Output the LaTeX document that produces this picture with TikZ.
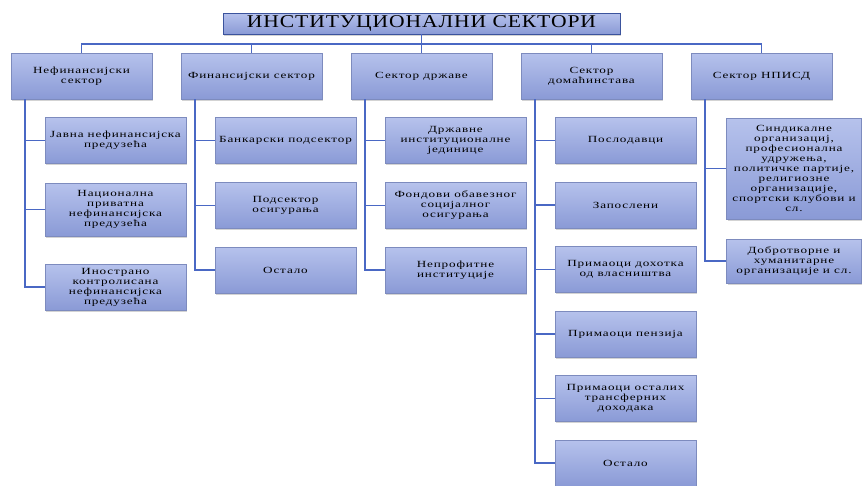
\documentclass[tikz,border=0pt]{standalone}
\usepackage{fontspec}
\setmainfont{Liberation Serif}[FakeStretch=1.4, LetterSpace=9]
\newfontfamily\titlefont{Liberation Serif}[FakeStretch=1.2, LetterSpace=5]
\usetikzlibrary{positioning,shadows}
\definecolor{boxtop}{HTML}{B6C2EC}
\definecolor{boxbot}{HTML}{8A9AD6}
\definecolor{boxline}{HTML}{7D8BBE}
\definecolor{linkblue}{HTML}{4A68C4}
\begin{document}
\begin{tikzpicture}[node distance=170pt, auto]
    \tikzstyle{base} = [rectangle, draw=boxline, top color=boxtop, bottom color=boxbot, align=center, inner sep=1pt,
        drop shadow={shadow xshift=1pt, shadow yshift=-1.5pt, opacity=0.35}, font=\fontsize{9.4}{10}\selectfont]
    \tikzstyle{sector} = [base, minimum width=141pt, minimum height=46pt]
    \tikzstyle{sub} = [base, minimum width=141pt, minimum height=46pt]
    \tikzstyle{head} = [base, minimum width=397pt, minimum height=21pt, draw=linkblue!80!black, font=\titlefont\fontsize{18}{19}\selectfont]
    \tikzstyle{link} = [draw=linkblue, line width=1.5pt]

    \useasboundingbox (0,0) rectangle (862pt,-485pt);

    % Title
    \node [head] (title) at (421.5pt,-23.5pt) {ИНСТИТУЦИОНАЛНИ СЕКТОРИ};

    % Sectors
    \node [sector, below of=title, node distance=52.5pt] (n3) {Сектор државе};
    \node [sector, left of=n3] (n2) {Финансијски сектор};
    \node [sector, left of=n2] (n1) {Нефинансијски\\сектор};
    \node [sector, right of=n3] (n4) {Сектор\\домаћинстава};
    \node [sector, right of=n4] (n5) {Сектор НПИСД};

    % Non-financial
    \node [sub, below of=n1, node distance=64.5pt, xshift=34pt] (n1a) {Јавна нефинансијска\\предузећа};
    \node [sub, below of=n1a, node distance=69pt, minimum height=53pt] (n1b) {Национална\\приватна\\нефинансијска\\предузећа};
    \node [sub, below of=n1b, node distance=77.5pt] (n1c) {Инострано\\контролисана\\нефинансијска\\предузећа};

    % Financial
    \node [sub, below of=n2, node distance=64.5pt, xshift=34pt] (n2a) {Банкарски подсектор};
    \node [sub, below of=n2a, node distance=65pt] (n2b) {Подсектор\\осигурања};
    \node [sub, below of=n2b, node distance=64.5pt] (n2c) {Остало};

    % Government
    \node [sub, below of=n3, node distance=64.5pt, xshift=34pt] (n3a) {Државне\\институционалне\\јединице};
    \node [sub, below of=n3a, node distance=65pt] (n3b) {Фондови обавезног\\социјалног\\осигурања};
    \node [sub, below of=n3b, node distance=64.5pt] (n3c) {Непрофитне\\институције};

    % Households
    \node [sub, below of=n4, node distance=64.5pt, xshift=34pt] (n4a) {Послодавци};
    \node [sub, below of=n4a, node distance=64.5pt] (n4b) {Запослени};
    \node [sub, below of=n4b, node distance=64.5pt] (n4c) {Примаоци дохотка\\од власништва};
    \node [sub, below of=n4c, node distance=64.5pt] (n4d) {Примаоци пензија};
    \node [sub, below of=n4d, node distance=64.5pt] (n4e) {Примаоци осталих\\трансферних\\доходака};
    \node [sub, below of=n4e, node distance=64.5pt] (n4f) {Остало};

    % NPISH
    \node [sub, below of=n5, node distance=92.5pt, xshift=32.5pt, minimum width=135pt, minimum height=101pt] (n5a) {Синдикалне\\организациј,\\професионална\\удружења,\\политичке партије,\\религиозне\\организације,\\спортски клубови и\\сл.};
    \node [sub, below of=n5a, node distance=92.5pt, minimum width=135pt, minimum height=44pt] (n5b) {Добротворне и\\хуманитарне\\организације и сл.};

    % Connections
    \draw [link] (title.south) -- (n3.north);
    \draw [link] (n1.north) -- ++(0,9pt) -| (n5.north);
    \draw [link] (n2.north) -- ++(0,9pt);
    \draw [link] (n4.north) -- ++(0,9pt);
    \foreach \p/\c in {n1/n1a, n1/n1b, n1/n1c, n2/n2a, n2/n2b, n2/n2c, n3/n3a, n3/n3b, n3/n3c,
        n4/n4a, n4/n4b, n4/n4c, n4/n4d, n4/n4e, n4/n4f, n5/n5a, n5/n5b}
        \draw [link] ([xshift=14pt]\p.south west) |- (\c.west);
\end{tikzpicture}
\end{document}
